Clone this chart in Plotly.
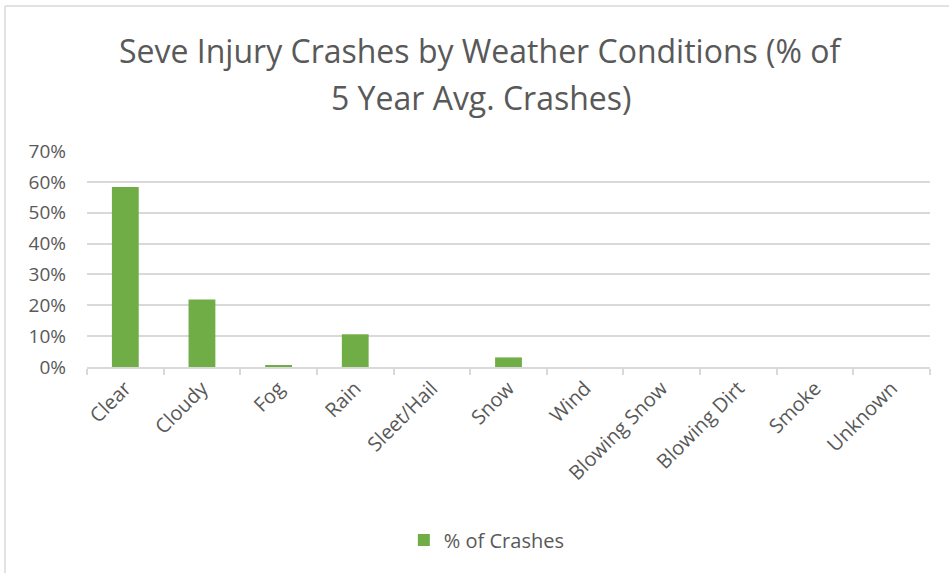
import plotly.graph_objects as go

categories = ["Clear", "Cloudy", "Fog", "Rain", "Sleet/Hail", "Snow", "Wind",
              "Blowing Snow", "Blowing Dirt", "Smoke", "Unknown"]
pct_crashes = [0.583, 0.219, 0.006, 0.106, 0.0, 0.031, 0.0, 0.0, 0.0, 0.0, 0.0]
y_ticks = [0, 0.1, 0.2, 0.3, 0.4, 0.5, 0.6, 0.7]

W, H = 949, 573
L, R, T, B = 87, 19, 151, 206
PW, PH = W - L - R, H - T - B

def px(x):
    return (x - L) / PW

def py(y):
    return (H - B - y) / PH

fig = go.Figure()
fig.add_trace(go.Bar(
    x=categories, y=pct_crashes, name="% of Crashes",
    marker=dict(color="#70AD47", line=dict(width=0)),
))

title_font = dict(family="Open Sans", size=32, color="#595959")
fig.update_layout(
    width=W, height=H,
    margin=dict(l=L, r=R, t=T, b=B, autoexpand=False),
    paper_bgcolor="white", plot_bgcolor="white",
    font=dict(family="Open Sans", color="#595959"),
    annotations=[
        dict(text="Seve Injury Crashes by Weather Conditions (% of", showarrow=False,
             xref="paper", yref="paper", x=px(481), y=py(50), xanchor="center",
             yanchor="middle", font=title_font),
        dict(text="5 Year Avg. Crashes)", showarrow=False,
             xref="paper", yref="paper", x=px(481), y=py(98), xanchor="center",
             yanchor="middle", font=title_font),
    ],
    bargap=0.65,
    showlegend=True,
    legend=dict(orientation="h", xref="container", yref="container",
                x=0.513, xanchor="center", y=1 - 540 / H, yanchor="middle",
                font=dict(size=20, color="#595959")),
    shapes=[
        dict(type="line", xref="paper", yref="paper",
             x0=px(5), x1=px(W), y0=py(6), y1=py(6),
             line=dict(color="#D9D9D9", width=1.5)),
        dict(type="line", xref="paper", yref="paper",
             x0=px(5), x1=px(5), y0=py(H), y1=py(6),
             line=dict(color="#D9D9D9", width=1.5)),
    ],
)

fig.update_xaxes(
    type="category", tickangle=-45, tickfont=dict(size=20, color="#595959"),
    showline=True, linecolor="#D9D9D9", linewidth=1.5,
    ticks="outside", tickson="boundaries", ticklen=6, tickcolor="#D9D9D9", tickwidth=1.5,
    showgrid=False,
)
fig.update_yaxes(
    range=[0, 0.7], tickvals=y_ticks, tickformat=".0%",
    tickfont=dict(size=19, color="#595959"),
    showgrid=True, gridcolor="#D9D9D9", gridwidth=1.5,
    zeroline=False, showline=False, ticks="", ticklabelstandoff=20,
)

fig.write_html("out.html", config={"displayModeBar": False},
               post_script="document.body.style.margin='0';")
